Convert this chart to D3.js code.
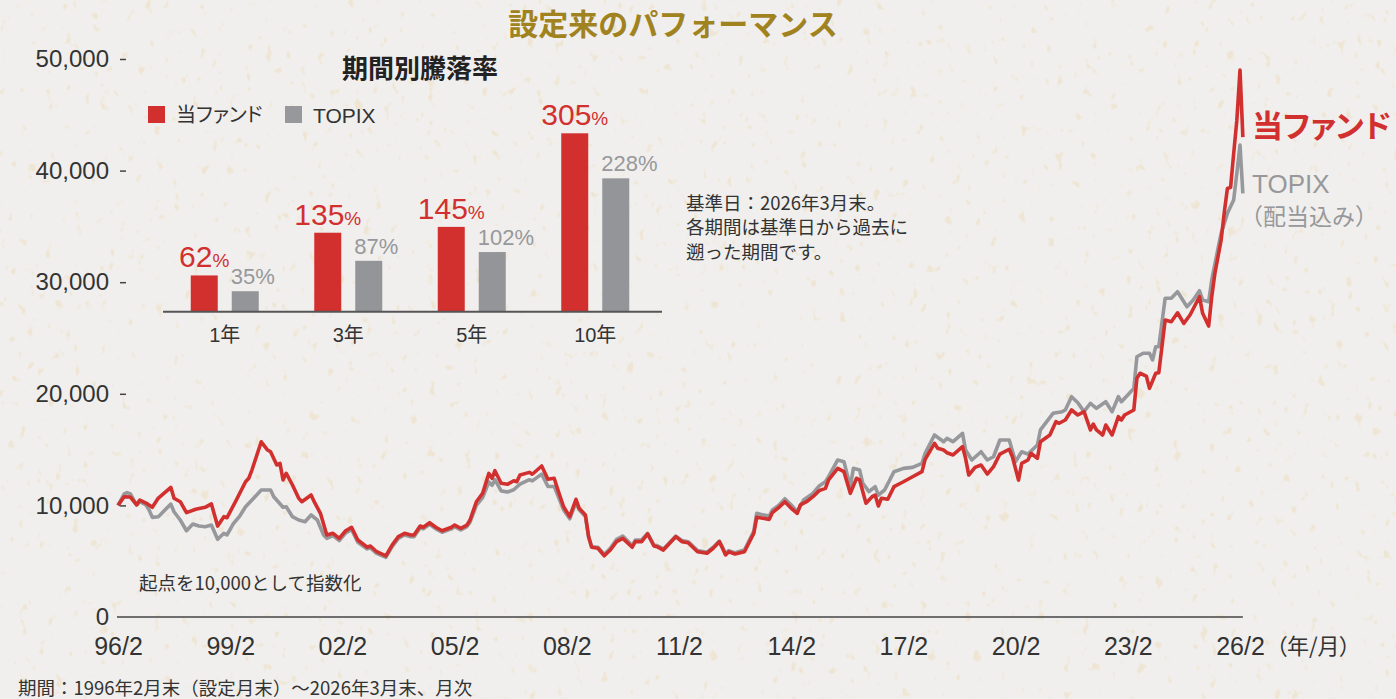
<!DOCTYPE html>
<html lang="ja">
<head>
<meta charset="utf-8">
<script src="https://cdn.jsdelivr.net/npm/d3@7"></script>
<style>
html, body { margin: 0; padding: 0; background: #f0efed; }
svg { display: block; font-family: "Liberation Sans", "Noto Sans CJK JP", sans-serif; }
.jp { font-family: "Noto Sans CJK JP", sans-serif; }
.palt { font-feature-settings: "palt" 1; }
</style>
</head>
<body>
<svg id="chart" width="1396" height="699"></svg>
<script>
"use strict";

// monthly index, start (1996/2) = 10,000
const fundSeries = [
	["1996-02",10000],["1996-04",10780],["1996-06",10750],["1996-08",10040],["1996-09",10480],["1996-11",10210],
	["1997-01",9830],["1997-03",10660],["1997-07",11620],["1997-08",10640],["1997-10",10330],["1997-12",9350],
	["1998-03",9650],["1998-06",9830],["1998-08",10130],["1998-10",8150],["1998-12",8990],
	["1999-01",8900],["1999-04",10480],["1999-07",12120],["1999-08",12430],["1999-09",13170],["1999-12",15700],
	["2000-02",14960],["2000-03",14810],["2000-05",13620],["2000-06",13770],["2000-07",12280],["2000-08",12880],["2000-10",11830],["2000-12",10640],
	["2001-01",10330],["2001-04",10930],["2001-05",10330],["2001-07",9290],["2001-09",7350],["2001-11",7500],
	["2002-01",7050],["2002-03",7700],["2002-05",8040],["2002-07",6900],["2002-10",6250],["2002-11",6360],
	["2003-01",5850],["2003-04",5470],["2003-06",6450],["2003-08",7200],["2003-10",7500],["2003-12",7350],
	["2004-01",7350],["2004-03",8150],["2004-04",8040],["2004-06",8450],["2004-08",8040],["2004-10",7730],
	["2005-01",8040],["2005-02",8240],["2005-04",7950],["2005-06",8240],["2005-07",8690],["2005-09",10330],["2005-11",11080],
	["2006-01",12870],["2006-02",12430],["2006-03",13110],["2006-05",11980],["2006-07",11890],["2006-09",12210],["2006-10",12120],["2006-11",12720],
	["2007-02",12960],["2007-03",12790],["2007-06",13530],["2007-08",12340],["2007-10",12430],["2007-11",11530],
	["2008-01",9880],["2008-03",8990],["2008-05",10550],["2008-06",9740],["2008-08",9140],["2008-09",7200],["2008-10",6250],["2008-12",6160],
	["2009-02",5490],["2009-04",6000],["2009-06",6750],["2009-08",7050],["2009-11",6250],["2009-12",6750],
	["2010-02",6750],["2010-04",7440],["2010-06",6360],["2010-07",6300],["2010-09",6000],["2010-11",6600],
	["2011-01",7200],["2011-03",6750],["2011-05",6660],["2011-08",5850],["2011-11",5710],
	["2012-01",6160],["2012-03",6750],["2012-04",6160],["2012-05",5560],["2012-06",5850],["2012-08",5640],["2012-11",5850],
	["2013-02",7500],["2013-03",8930],["2013-05",8840],["2013-07",8750],["2013-08",9350],["2013-10",9800],["2013-12",10330],
	["2014-02",9740],["2014-04",9290],["2014-05",10040],["2014-07",10330],["2014-09",10780],["2014-11",11320],
	["2015-01",11530],["2015-02",12280],["2015-05",13320],["2015-07",13020],["2015-09",11080],["2015-11",12430],["2015-12",12280],
	["2016-02",10190],["2016-04",10780],["2016-05",10930],["2016-06",9950],["2016-07",10640],["2016-09",10550],["2016-11",11680],
	["2017-02",12120],["2017-05",12570],["2017-08",13020],["2017-09",14130],["2017-12",15560],
	["2018-01",15120],["2018-03",14960],["2018-04",14720],["2018-06",14520],["2018-09",15260],["2018-10",14220],["2018-11",12720],
	["2019-01",13410],["2019-03",13620],["2019-05",12810],["2019-07",13470],["2019-09",14600],["2019-12",15030],
	["2020-01",14360],["2020-03",12270],["2020-04",13770],["2020-06",14070],["2020-07",14670],["2020-09",14220],["2020-10",15710],
	["2021-01",16310],["2021-03",17500],["2021-04",17360],["2021-06",17650],["2021-08",18550],["2021-10",18100],["2021-12",18400],
	["2022-02",16760],["2022-03",17290],["2022-04",16760],["2022-06",16310],["2022-07",17200],["2022-09",16310],["2022-11",17950],["2022-12",17650],
	["2023-01",18100],["2023-04",18550],["2023-05",21390],["2023-06",21840],["2023-08",21590],["2023-09",20490],["2023-11",21840],["2023-12",21890],
	["2024-02",26610],["2024-04",26460],["2024-06",27260],["2024-08",26310],["2024-10",27060],
	["2025-01",28700],["2025-02",27210],["2025-04",26070],["2025-05",28700],["2025-06",30800],["2025-08",33780],["2025-09",36300],
	["2025-10",38400],["2025-11",38500],["2025-12",41500],
	["2026-01",44500],["2026-02",49000],["2026-03",43000]
];

const topixSeries = [
	["1996-02",10000],["1996-04",11020],["1996-05",11140],["1996-06",11020],["1996-08",10040],["1996-09",10330],["1996-11",10040],["1996-12",9590],
	["1997-01",8930],["1997-03",8990],["1997-07",10120],["1997-08",9430],["1997-10",8690],["1997-12",7730],
	["1998-02",8330],["1998-04",8150],["1998-06",8090],["1998-08",8240],["1998-10",6960],["1998-12",7500],
	["1999-01",7350],["1999-03",8330],["1999-05",8990],["1999-07",9880],["1999-09",10480],["1999-12",11380],
	["2000-03",11380],["2000-04",10780],["2000-07",9830],["2000-08",9880],["2000-10",8990],["2000-12",8690],
	["2001-02",8540],["2001-04",9140],["2001-06",8690],["2001-08",7350],["2001-09",7050],["2001-11",7300],
	["2002-01",6850],["2002-03",7500],["2002-05",7850],["2002-07",6700],["2002-10",6100],["2002-11",6200],
	["2003-01",5700],["2003-04",5350],["2003-06",6300],["2003-08",7050],["2003-10",7350],["2003-12",7200],
	["2004-01",7200],["2004-03",8000],["2004-04",7900],["2004-06",8300],["2004-08",7900],["2004-10",7600],
	["2005-01",7900],["2005-02",8100],["2005-04",7800],["2005-06",8100],["2005-07",8500],["2005-09",10000],["2005-11",10700],
	["2006-01",12100],["2006-02",11800],["2006-03",12300],["2006-05",11300],["2006-07",11200],["2006-09",11400],["2006-11",11900],
	["2007-02",12300],["2007-03",12200],["2007-06",12800],["2007-08",11700],["2007-10",11700],["2007-11",11000],
	["2008-01",9600],["2008-03",8800],["2008-05",10300],["2008-06",9600],["2008-08",9000],["2008-09",7200],["2008-10",6300],["2008-12",6250],
	["2009-02",5600],["2009-04",6150],["2009-06",6950],["2009-08",7250],["2009-11",6400],["2009-12",6900],
	["2010-02",6900],["2010-04",7500],["2010-06",6450],["2010-07",6400],["2010-09",6100],["2010-11",6650],
	["2011-01",7250],["2011-03",6850],["2011-05",6750],["2011-08",5950],["2011-11",5800],
	["2012-01",6250],["2012-03",6800],["2012-04",6250],["2012-05",5650],["2012-06",5950],["2012-08",5750],["2012-11",6000],
	["2013-02",7700],["2013-03",9300],["2013-05",9150],["2013-07",9050],["2013-08",9600],["2013-10",10000],["2013-12",10600],
	["2014-02",10040],["2014-04",9430],["2014-06",10480],["2014-09",11080],["2014-11",11740],
	["2015-01",12120],["2015-02",12570],["2015-05",14070],["2015-07",13920],["2015-09",11680],["2015-10",13320],["2015-12",13170],
	["2016-01",11980],["2016-03",11230],["2016-05",11680],["2016-06",10930],["2016-08",11380],["2016-11",13020],
	["2017-02",13320],["2017-05",13410],["2017-08",13770],["2017-09",14670],["2017-12",16310],
	["2018-03",15710],["2018-04",16000],["2018-06",15710],["2018-09",16460],["2018-10",14960],["2018-12",14070],
	["2019-03",14810],["2019-05",14070],["2019-07",14360],["2019-09",15860],["2019-12",15860],
	["2020-02",13920],["2020-04",14810],["2020-06",14600],["2020-09",15410],["2020-10",16760],
	["2021-02",18250],["2021-05",18400],["2021-06",18550],["2021-08",19740],["2021-10",19200],["2021-12",18400],
	["2022-02",19150],["2022-04",18700],["2022-07",19290],["2022-09",18400],["2022-11",19740],["2022-12",19290],
	["2023-02",19890],["2023-04",20490],["2023-05",23320],["2023-07",23630],["2023-09",23630],["2023-10",23030],["2023-11",24220],["2023-12",24220],
	["2024-02",28560],["2024-04",28560],["2024-06",29150],["2024-09",27800],["2024-11",28400],
	["2025-01",29240],["2025-02",28400],["2025-04",28250],["2025-05",30200],["2025-07",33000],["2025-08",34380],["2025-10",36170],["2025-12",37360],
	["2026-01",39750],["2026-02",42290],["2026-03",37950]
];

const yTicks = [0, 10000, 20000, 30000, 40000, 50000];
const xTickMonths = ["1996-02","1999-02","2002-02","2005-02","2008-02","2011-02","2014-02","2017-02","2020-02","2023-02","2026-02"];

// inset: returns by period (%)
const periods = ["1年", "3年", "5年", "10年"];
const fundReturns = [62, 135, 145, 305];
const topixReturns = [35, 87, 102, 228];

const noteLines = ["基準日：2026年3月末。", "各期間は基準日から過去に", "遡った期間です。"];

const RED = "#d2302e";
const GRAY = "#97989b";
const INK = "#333333";

var svg = d3.select("#chart");

// paper background with faint beige flecks
var defs = svg.append("defs");
var paper = defs.append("filter").attr("id", "paper")
	.attr("x", 0).attr("y", 0).attr("width", "100%").attr("height", "100%");
paper.append("feTurbulence")
	.attr("type", "fractalNoise")
	.attr("baseFrequency", "0.11 0.08")
	.attr("numOctaves", 2)
	.attr("seed", 7)
	.attr("result", "n");
paper.append("feColorMatrix")
	.attr("in", "n")
	.attr("type", "matrix")
	.attr("values", "0 0 0 0 0.86  0 0 0 0 0.74  0 0 0 0 0.55  9 0 0 0 -6.0");

svg.append("rect").attr("width", 1396).attr("height", 699).attr("fill", "#f0efed");
svg.append("rect").attr("width", 1396).attr("height", 699)
	.attr("filter", "url(#paper)").attr("opacity", 0.6);

var parseMonth = d3.timeParse("%Y-%m");
function toPoints(series) {
	return series.map(function(d) { return { date: parseMonth(d[0]), value: d[1] }; });
}
var fund = toPoints(fundSeries);
var topix = toPoints(topixSeries);

var x = d3.scaleTime()
	.domain([parseMonth("1996-02"), parseMonth("2026-02")])
	.range([118, 1240]);
var y = d3.scaleLinear()
	.domain([0, 50000])
	.range([617, 59]);

// title
svg.append("text")
	.attr("class", "jp")
	.attr("x", 673).attr("y", 24).attr("dy", "0.36em")
	.attr("text-anchor", "middle")
	.attr("font-size", 30).attr("font-weight", 700)
	.attr("fill", "#a0831f")
	.text("設定来のパフォーマンス");

// y axis
var yAxisG = svg.append("g")
	.attr("transform", "translate(126,0)")
	.call(d3.axisLeft(y).tickValues(yTicks).tickFormat(d3.format(",")).tickSize(6).tickPadding(11));
yAxisG.select(".domain").remove();
yAxisG.selectAll(".tick line")
	.attr("stroke", "#444").attr("stroke-width", 1.5)
	.filter(function(d) { return d === 0; }).remove();
yAxisG.selectAll(".tick text")
	.attr("font-size", 24).attr("fill", INK)
	.attr("font-family", "Liberation Sans");

// x axis
var xAxisG = svg.append("g")
	.attr("transform", "translate(0,617)")
	.call(d3.axisBottom(x).tickValues(xTickMonths.map(parseMonth)).tickFormat(d3.timeFormat("%y/%-m")).tickSize(0));
xAxisG.select(".domain").remove();
xAxisG.selectAll(".tick text")
	.attr("y", 29).attr("dy", "0.36em")
	.attr("font-size", 25).attr("fill", INK)
	.attr("font-family", "Liberation Sans");

svg.append("text")
	.attr("class", "jp palt")
	.attr("x", 1276).attr("y", 646).attr("dy", "0.36em")
	.attr("font-size", 22).attr("fill", INK)
	.text("（年/月）");

// zero line
svg.append("line")
	.attr("x1", x(fund[0].date) - 1).attr("x2", x(fund[fund.length - 1].date))
	.attr("y1", y(0)).attr("y2", y(0))
	.attr("stroke", "#444").attr("stroke-width", 1.6);

// the two index lines, fund on top
var line = d3.line()
	.x(function(d) { return x(d.date); })
	.y(function(d) { return y(d.value); });

svg.append("path")
	.datum(topix)
	.attr("d", line)
	.attr("fill", "none").attr("stroke", GRAY)
	.attr("stroke-width", 3.6).attr("stroke-linejoin", "round");
svg.append("path")
	.datum(fund)
	.attr("d", line)
	.attr("fill", "none").attr("stroke", RED)
	.attr("stroke-width", 3.6).attr("stroke-linejoin", "round");

// end labels
svg.append("text").attr("class", "jp palt")
	.attr("x", 1252).attr("y", 126).attr("dy", "0.36em")
	.attr("font-size", 31).attr("font-weight", 700).attr("fill", RED)
	.text("当ファンド");
svg.append("text")
	.attr("x", 1252).attr("y", 184).attr("dy", "0.36em")
	.attr("font-size", 26).attr("fill", GRAY)
	.text("TOPIX");
svg.append("text").attr("class", "jp")
	.attr("x", 1240).attr("y", 217).attr("dy", "0.36em")
	.attr("font-size", 23).attr("fill", GRAY)
	.text("（配当込み）");

// notes
svg.append("text").attr("class", "jp")
	.attr("x", 139).attr("y", 583).attr("dy", "0.36em")
	.attr("font-size", 18.5).attr("fill", INK)
	.text("起点を10,000として指数化");
svg.append("text").attr("class", "jp")
	.attr("x", 18).attr("y", 688).attr("dy", "0.36em")
	.attr("font-size", 18.5).attr("fill", INK)
	.text("期間：1996年2月末（設定月末）～2026年3月末、月次");

svg.append("g").selectAll("text")
	.data(noteLines).enter()
	.append("text").attr("class", "jp")
	.attr("x", 686)
	.attr("y", function(d, i) { return 203 + i * 24.5; })
	.attr("dy", "0.36em")
	.attr("font-size", 18.5).attr("fill", INK)
	.text(function(d) { return d; });

// ---- inset bar chart ----
var inset = svg.append("g");

inset.append("text").attr("class", "jp")
	.attr("x", 420).attr("y", 69).attr("dy", "0.36em")
	.attr("text-anchor", "middle")
	.attr("font-size", 26).attr("font-weight", 700).attr("fill", "#222")
	.text("期間別騰落率");

var legend = [
	{ name: "当ファンド", color: RED, x: 148, size: 20, cls: "jp palt" },
	{ name: "TOPIX", color: GRAY, x: 285, size: 21, cls: "" }
];
var lg = inset.selectAll(".legend").data(legend).enter()
	.append("g").attr("class", "legend")
	.attr("transform", function(d) { return "translate(" + d.x + ",106)"; });
lg.append("rect").attr("width", 17).attr("height", 17).attr("fill", function(d) { return d.color; });
lg.append("text")
	.attr("class", function(d) { return d.cls; })
	.attr("x", 28).attr("y", 9).attr("dy", "0.36em")
	.attr("font-size", function(d) { return d.size; })
	.attr("fill", INK)
	.text(function(d) { return d.name; });

var xb = d3.scaleBand().domain(periods).range([163, 657]);
var xs = d3.scaleBand().domain(["fund", "topix"]).range([-34, 34]).paddingInner(0.3415);
var yb = d3.scaleLinear().domain([0, 305]).range([311.7, 133.3]);

var rows = periods.map(function(p, i) {
	return { period: p, fund: fundReturns[i], topix: topixReturns[i] };
});
var groups = inset.selectAll(".period").data(rows).enter()
	.append("g").attr("class", "period")
	.attr("transform", function(d) { return "translate(" + (xb(d.period) + xb.bandwidth() / 2) + ",0)"; });

groups.append("rect")
	.attr("x", xs("fund")).attr("width", xs.bandwidth())
	.attr("y", function(d) { return yb(d.fund); })
	.attr("height", function(d) { return yb(0) - yb(d.fund); })
	.attr("fill", RED);
groups.append("rect")
	.attr("x", xs("topix")).attr("width", xs.bandwidth())
	.attr("y", function(d) { return yb(d.topix); })
	.attr("height", function(d) { return yb(0) - yb(d.topix); })
	.attr("fill", "#939598");

var fundLabel = groups.append("text")
	.attr("x", xs("fund") + xs.bandwidth() / 2)
	.attr("y", function(d) { return yb(d.fund) - 8; })
	.attr("text-anchor", "middle")
	.attr("fill", RED);
fundLabel.append("tspan").attr("font-size", 30).attr("font-weight", 500).text(function(d) { return d.fund; });
fundLabel.append("tspan").attr("font-size", 19).text("%");

groups.append("text")
	.attr("x", xs("topix") - 1)
	.attr("y", function(d) { return yb(d.topix) - 7; })
	.attr("font-size", 22).attr("fill", GRAY)
	.text(function(d) { return d.topix + "%"; });

groups.append("text")
	.attr("y", 335).attr("dy", "0.36em")
	.attr("text-anchor", "middle")
	.attr("font-size", 20).attr("fill", INK)
	.text(function(d) { return d.period; });

inset.append("line")
	.attr("x1", 163).attr("x2", 662)
	.attr("y1", yb(0)).attr("y2", yb(0))
	.attr("stroke", "#555").attr("stroke-width", 2);
</script>
</body>
</html>
